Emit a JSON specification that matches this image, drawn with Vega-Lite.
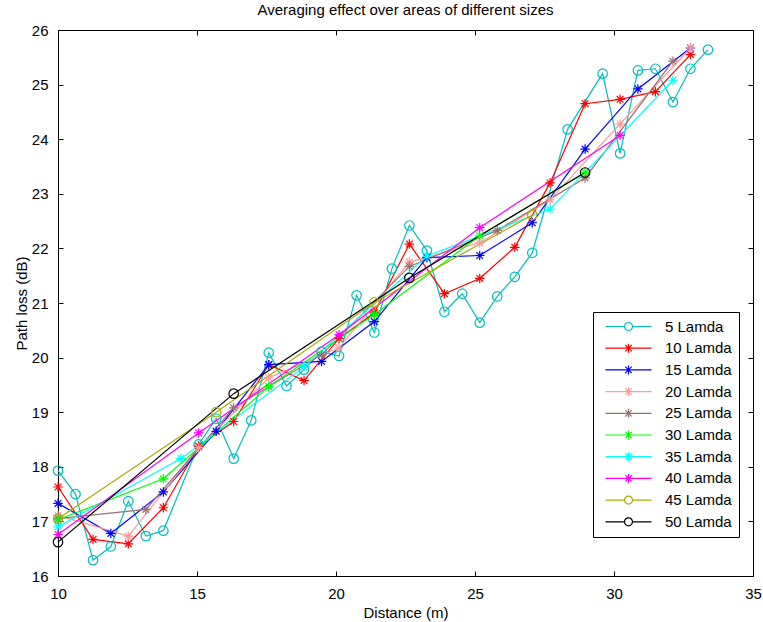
{
  "$schema": "https://vega.github.io/schema/vega-lite/v6.json",
  "width": 695,
  "height": 546,
  "autosize": {"type": "none"},
  "padding": {"left": 58, "top": 30, "right": 10, "bottom": 46},
  "background": "white",
  "title": {"text": "Averaging effect over areas of different sizes", "fontSize": 15, "fontWeight": "normal", "font": "Liberation Sans", "anchor": "middle", "frame": "group", "offset": -7, "baseline": "alphabetic", "color": "black"},
  "config": {
    "font": "Liberation Sans",
    "view": {"stroke": "black", "strokeWidth": 1},
    "axis": {"grid": false, "domainColor": "black", "tickColor": "black", "labelColor": "black", "titleColor": "black", "labelFontSize": 15, "titleFontSize": 15, "titleFontWeight": "normal", "labelFont": "Liberation Sans", "titleFont": "Liberation Sans", "tickSize": -5, "labelFlush": false, "labelOverlap": false, "domainWidth": 1, "tickWidth": 1}
  },
  "data": {"values": [
    {"series": "5 Lamda", "distance": 10.00, "loss": 17.93},
    {"series": "5 Lamda", "distance": 10.63, "loss": 17.50},
    {"series": "5 Lamda", "distance": 11.26, "loss": 16.29},
    {"series": "5 Lamda", "distance": 11.90, "loss": 16.54},
    {"series": "5 Lamda", "distance": 12.53, "loss": 17.37},
    {"series": "5 Lamda", "distance": 13.16, "loss": 16.73},
    {"series": "5 Lamda", "distance": 13.79, "loss": 16.83},
    {"series": "5 Lamda", "distance": 15.06, "loss": 18.41},
    {"series": "5 Lamda", "distance": 15.69, "loss": 18.88},
    {"series": "5 Lamda", "distance": 16.32, "loss": 18.15},
    {"series": "5 Lamda", "distance": 16.95, "loss": 18.85},
    {"series": "5 Lamda", "distance": 17.58, "loss": 20.09},
    {"series": "5 Lamda", "distance": 18.22, "loss": 19.48},
    {"series": "5 Lamda", "distance": 18.85, "loss": 19.78},
    {"series": "5 Lamda", "distance": 19.48, "loss": 20.11},
    {"series": "5 Lamda", "distance": 20.11, "loss": 20.03},
    {"series": "5 Lamda", "distance": 20.74, "loss": 21.14},
    {"series": "5 Lamda", "distance": 21.38, "loss": 20.46},
    {"series": "5 Lamda", "distance": 22.01, "loss": 21.63},
    {"series": "5 Lamda", "distance": 22.64, "loss": 22.42},
    {"series": "5 Lamda", "distance": 23.27, "loss": 21.96},
    {"series": "5 Lamda", "distance": 23.90, "loss": 20.84},
    {"series": "5 Lamda", "distance": 24.54, "loss": 21.17},
    {"series": "5 Lamda", "distance": 25.17, "loss": 20.64},
    {"series": "5 Lamda", "distance": 25.80, "loss": 21.12},
    {"series": "5 Lamda", "distance": 26.43, "loss": 21.48},
    {"series": "5 Lamda", "distance": 27.06, "loss": 21.92},
    {"series": "5 Lamda", "distance": 28.33, "loss": 24.18},
    {"series": "5 Lamda", "distance": 29.59, "loss": 25.20},
    {"series": "5 Lamda", "distance": 30.22, "loss": 23.74},
    {"series": "5 Lamda", "distance": 30.86, "loss": 25.26},
    {"series": "5 Lamda", "distance": 31.49, "loss": 25.29},
    {"series": "5 Lamda", "distance": 32.12, "loss": 24.68},
    {"series": "5 Lamda", "distance": 32.75, "loss": 25.29},
    {"series": "5 Lamda", "distance": 33.38, "loss": 25.64},

    {"series": "10 Lamda", "distance": 10.00, "loss": 17.63},
    {"series": "10 Lamda", "distance": 11.26, "loss": 16.67},
    {"series": "10 Lamda", "distance": 12.53, "loss": 16.59},
    {"series": "10 Lamda", "distance": 13.79, "loss": 17.25},
    {"series": "10 Lamda", "distance": 15.06, "loss": 18.38},
    {"series": "10 Lamda", "distance": 16.32, "loss": 18.83},
    {"series": "10 Lamda", "distance": 17.58, "loss": 19.87},
    {"series": "10 Lamda", "distance": 18.85, "loss": 19.58},
    {"series": "10 Lamda", "distance": 20.11, "loss": 20.35},
    {"series": "10 Lamda", "distance": 21.38, "loss": 20.82},
    {"series": "10 Lamda", "distance": 22.64, "loss": 22.08},
    {"series": "10 Lamda", "distance": 23.90, "loss": 21.17},
    {"series": "10 Lamda", "distance": 25.17, "loss": 21.45},
    {"series": "10 Lamda", "distance": 26.43, "loss": 22.02},
    {"series": "10 Lamda", "distance": 27.70, "loss": 23.20},
    {"series": "10 Lamda", "distance": 28.96, "loss": 24.65},
    {"series": "10 Lamda", "distance": 30.22, "loss": 24.73},
    {"series": "10 Lamda", "distance": 31.49, "loss": 24.87},
    {"series": "10 Lamda", "distance": 32.75, "loss": 25.55},

    {"series": "15 Lamda", "distance": 10.00, "loss": 17.33},
    {"series": "15 Lamda", "distance": 11.90, "loss": 16.78},
    {"series": "15 Lamda", "distance": 13.79, "loss": 17.54},
    {"series": "15 Lamda", "distance": 15.69, "loss": 18.65},
    {"series": "15 Lamda", "distance": 17.58, "loss": 19.87},
    {"series": "15 Lamda", "distance": 19.48, "loss": 19.93},
    {"series": "15 Lamda", "distance": 21.38, "loss": 20.66},
    {"series": "15 Lamda", "distance": 23.27, "loss": 21.83},
    {"series": "15 Lamda", "distance": 25.17, "loss": 21.87},
    {"series": "15 Lamda", "distance": 27.06, "loss": 22.47},
    {"series": "15 Lamda", "distance": 28.96, "loss": 23.82},
    {"series": "15 Lamda", "distance": 30.86, "loss": 24.92},
    {"series": "15 Lamda", "distance": 32.75, "loss": 25.67},

    {"series": "20 Lamda", "distance": 10.00, "loss": 17.11},
    {"series": "20 Lamda", "distance": 12.53, "loss": 16.73},
    {"series": "20 Lamda", "distance": 15.06, "loss": 18.35},
    {"series": "20 Lamda", "distance": 17.58, "loss": 19.63},
    {"series": "20 Lamda", "distance": 20.11, "loss": 20.18},
    {"series": "20 Lamda", "distance": 22.64, "loss": 21.75},
    {"series": "20 Lamda", "distance": 25.17, "loss": 22.10},
    {"series": "20 Lamda", "distance": 27.70, "loss": 22.89},
    {"series": "20 Lamda", "distance": 30.22, "loss": 24.28},
    {"series": "20 Lamda", "distance": 32.75, "loss": 25.67},

    {"series": "25 Lamda", "distance": 10.00, "loss": 17.05},
    {"series": "25 Lamda", "distance": 13.16, "loss": 17.22},
    {"series": "25 Lamda", "distance": 16.32, "loss": 19.08},
    {"series": "25 Lamda", "distance": 19.48, "loss": 20.05},
    {"series": "25 Lamda", "distance": 22.64, "loss": 21.67},
    {"series": "25 Lamda", "distance": 25.80, "loss": 22.33},
    {"series": "25 Lamda", "distance": 28.96, "loss": 23.29},
    {"series": "25 Lamda", "distance": 32.12, "loss": 25.43},

    {"series": "30 Lamda", "distance": 10.00, "loss": 17.03},
    {"series": "30 Lamda", "distance": 13.79, "loss": 17.78},
    {"series": "30 Lamda", "distance": 17.58, "loss": 19.47},
    {"series": "30 Lamda", "distance": 21.38, "loss": 20.79},
    {"series": "30 Lamda", "distance": 25.17, "loss": 22.23},
    {"series": "30 Lamda", "distance": 28.96, "loss": 23.39},

    {"series": "35 Lamda", "distance": 10.00, "loss": 16.90},
    {"series": "35 Lamda", "distance": 14.42, "loss": 18.15},
    {"series": "35 Lamda", "distance": 18.85, "loss": 19.83},
    {"series": "35 Lamda", "distance": 23.27, "loss": 21.86},
    {"series": "35 Lamda", "distance": 27.70, "loss": 22.72},
    {"series": "35 Lamda", "distance": 32.12, "loss": 25.08},

    {"series": "40 Lamda", "distance": 10.00, "loss": 16.76},
    {"series": "40 Lamda", "distance": 15.06, "loss": 18.62},
    {"series": "40 Lamda", "distance": 20.11, "loss": 20.42},
    {"series": "40 Lamda", "distance": 25.17, "loss": 22.38},
    {"series": "40 Lamda", "distance": 30.22, "loss": 24.07},

    {"series": "45 Lamda", "distance": 10.00, "loss": 17.05},
    {"series": "45 Lamda", "distance": 15.69, "loss": 19.00},
    {"series": "45 Lamda", "distance": 21.38, "loss": 21.01},
    {"series": "45 Lamda", "distance": 27.06, "loss": 22.61},

    {"series": "50 Lamda", "distance": 10.00, "loss": 16.62},
    {"series": "50 Lamda", "distance": 16.32, "loss": 19.34},
    {"series": "50 Lamda", "distance": 22.64, "loss": 21.46},
    {"series": "50 Lamda", "distance": 28.96, "loss": 23.39}
  ]},
  "layer": [
    {
      "mark": {"type": "line", "strokeWidth": 1.2},
      "encoding": {
        "x": {"field": "distance", "type": "quantitative", "scale": {"domain": [10, 35], "nice": false, "zero": false},
              "axis": {"orient": "bottom", "values": [10, 15, 20, 25, 30, 35], "title": "Distance (m)", "labelPadding": 15, "titlePadding": 4}},
        "y": {"field": "loss", "type": "quantitative", "scale": {"domain": [16, 26], "nice": false, "zero": false},
              "axis": {"orient": "left", "values": [16, 17, 18, 19, 20, 21, 22, 23, 24, 25, 26], "title": "Path loss (dB)", "labelPadding": 15, "titlePadding": 2}},
        "color": {"field": "series", "type": "nominal",
                  "scale": {"domain": ["5 Lamda", "10 Lamda", "15 Lamda", "20 Lamda", "25 Lamda", "30 Lamda", "35 Lamda", "40 Lamda", "45 Lamda", "50 Lamda"],
                            "range": ["#00BFBF", "#FF0000", "#0000FF", "#FF9999", "#997070", "#00FF00", "#00FFFF", "#FF00FF", "#ABAB00", "#000000"]},
                  "legend": null}
      }
    },
    {
      "mark": {"type": "point", "filled": false, "strokeWidth": 1.2, "size": 90, "opacity": 1},
      "encoding": {
        "x": {"field": "distance", "type": "quantitative",
              "axis": {"orient": "top", "values": [10, 15, 20, 25, 30, 35], "labels": false, "title": null}},
        "y": {"field": "loss", "type": "quantitative",
              "axis": {"orient": "right", "values": [16, 17, 18, 19, 20, 21, 22, 23, 24, 25, 26], "labels": false, "title": null}},
        "color": {"field": "series", "type": "nominal", "legend": null},
        "shape": {"field": "series", "type": "nominal", "legend": null,
                  "scale": {"domain": ["5 Lamda", "10 Lamda", "15 Lamda", "20 Lamda", "25 Lamda", "30 Lamda", "35 Lamda", "40 Lamda", "45 Lamda", "50 Lamda"],
                            "range": ["circle", "M0,-1L0,1M-1,0L1,0M-0.7,-0.7L0.7,0.7M-0.7,0.7L0.7,-0.7", "M0,-1L0,1M-1,0L1,0M-0.7,-0.7L0.7,0.7M-0.7,0.7L0.7,-0.7", "M0,-1L0,1M-1,0L1,0M-0.7,-0.7L0.7,0.7M-0.7,0.7L0.7,-0.7", "M0,-1L0,1M-1,0L1,0M-0.7,-0.7L0.7,0.7M-0.7,0.7L0.7,-0.7", "M0,-1L0,1M-1,0L1,0M-0.7,-0.7L0.7,0.7M-0.7,0.7L0.7,-0.7", "M0,-1L0,1M-1,0L1,0M-0.7,-0.7L0.7,0.7M-0.7,0.7L0.7,-0.7", "M0,-1L0,1M-1,0L1,0M-0.7,-0.7L0.7,0.7M-0.7,0.7L0.7,-0.7", "circle", "circle"]}}
      }
    },
    {
      "mark": {"type": "point", "filled": false, "strokeWidth": 1.2, "opacity": 0},
      "encoding": {
        "x": {"field": "distance", "type": "quantitative", "axis": null},
        "y": {"field": "loss", "type": "quantitative", "axis": null},
        "color": {"field": "series", "type": "nominal",
                  "legend": {"title": null, "orient": "none", "legendX": 535, "legendY": 282, "direction": "vertical", "fillColor": "white", "strokeColor": "black", "padding": 7, "rowPadding": 5.7, "symbolSize": 100, "symbolOffset": 21, "labelOffset": 29, "labelAlign": "left", "labelFontSize": 15, "labelFont": "Liberation Sans", "labelColor": "black", "symbolStrokeWidth": 1.2, "symbolOpacity": 1, "symbolFillColor": "transparent"}},
        "shape": {"field": "series", "type": "nominal",
                  "legend": {"title": null, "orient": "none", "legendX": 535, "legendY": 282, "direction": "vertical", "fillColor": "white", "strokeColor": "black", "padding": 7, "rowPadding": 5.7, "symbolSize": 100, "symbolOffset": 21, "labelOffset": 29, "labelAlign": "left", "labelFontSize": 15, "labelFont": "Liberation Sans", "labelColor": "black", "symbolStrokeWidth": 1.2, "symbolOpacity": 1, "symbolFillColor": "transparent"},
                  "scale": {"domain": ["5 Lamda", "10 Lamda", "15 Lamda", "20 Lamda", "25 Lamda", "30 Lamda", "35 Lamda", "40 Lamda", "45 Lamda", "50 Lamda"],
                            "range": ["M-4.6,0L-0.8,0M0.8,0L4.6,0M0.8,0A0.8,0.8,0,1,1,-0.8,0A0.8,0.8,0,1,1,0.8,0", "M-4.6,0L4.6,0M0,-0.9L0,0.9M-0.64,-0.64L0.64,0.64M-0.64,0.64L0.64,-0.64", "M-4.6,0L4.6,0M0,-0.9L0,0.9M-0.64,-0.64L0.64,0.64M-0.64,0.64L0.64,-0.64", "M-4.6,0L4.6,0M0,-0.9L0,0.9M-0.64,-0.64L0.64,0.64M-0.64,0.64L0.64,-0.64", "M-4.6,0L4.6,0M0,-0.9L0,0.9M-0.64,-0.64L0.64,0.64M-0.64,0.64L0.64,-0.64", "M-4.6,0L4.6,0M0,-0.9L0,0.9M-0.64,-0.64L0.64,0.64M-0.64,0.64L0.64,-0.64", "M-4.6,0L4.6,0M0,-0.9L0,0.9M-0.64,-0.64L0.64,0.64M-0.64,0.64L0.64,-0.64", "M-4.6,0L4.6,0M0,-0.9L0,0.9M-0.64,-0.64L0.64,0.64M-0.64,0.64L0.64,-0.64", "M-4.6,0L-0.8,0M0.8,0L4.6,0M0.8,0A0.8,0.8,0,1,1,-0.8,0A0.8,0.8,0,1,1,0.8,0", "M-4.6,0L-0.8,0M0.8,0L4.6,0M0.8,0A0.8,0.8,0,1,1,-0.8,0A0.8,0.8,0,1,1,0.8,0"]}}
      }
    }
  ],
  "resolve": {"axis": {"x": "independent", "y": "independent"}, "scale": {"shape": "independent"}, "legend": {"color": "independent", "shape": "independent"}}
}
